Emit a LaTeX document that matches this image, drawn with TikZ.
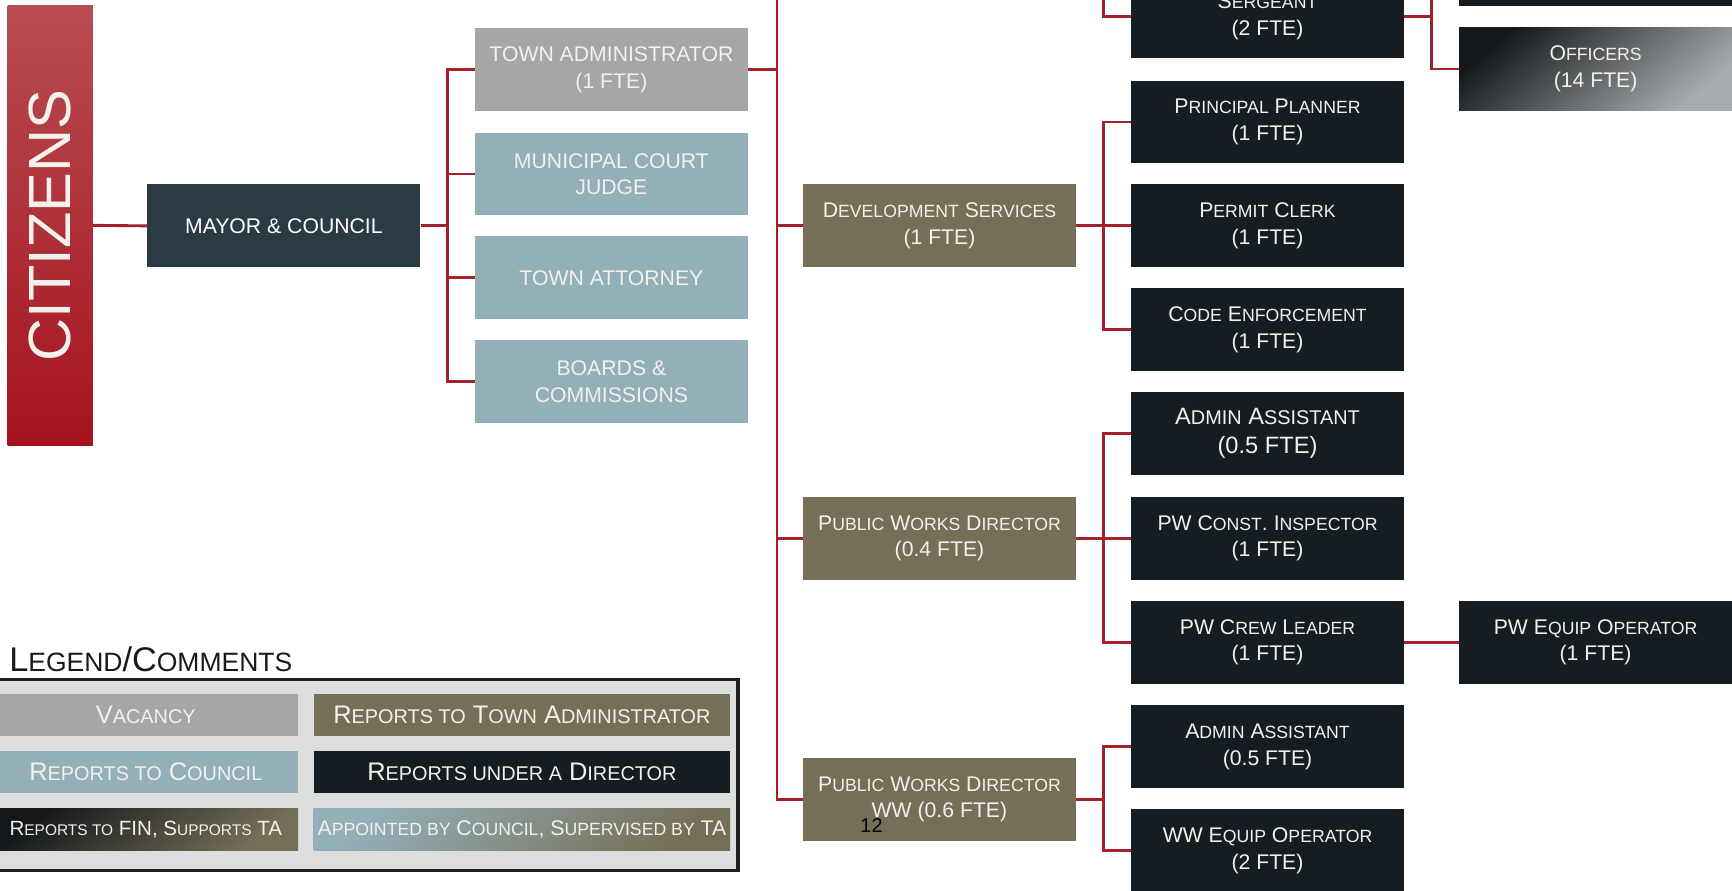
\documentclass[tikz,border=0pt]{standalone}
\usepackage{fontspec}
\setmainfont{Liberation Sans}
\usepackage{relsize}
\usetikzlibrary{positioning}

\definecolor{linkred}{HTML}{A3202D}
\definecolor{citytop}{HTML}{B84D53}
\definecolor{citybot}{HTML}{A5131E}
\definecolor{mayorfill}{HTML}{2A3B44}
\definecolor{vacfill}{HTML}{A6A6A6}
\definecolor{councilfill}{HTML}{93AFB8}
\definecolor{tafill}{HTML}{766F58}
\definecolor{dirfill}{HTML}{161D22}
\definecolor{offdark}{HTML}{14181B}
\definecolor{offlight}{HTML}{A9ACAF}
\definecolor{boxtext}{HTML}{F3F1EC}
\definecolor{legbg}{HTML}{DCDEDD}
\definecolor{legframe}{HTML}{1B2024}

\newcommand{\smc}[1]{\textscale{0.8}{#1}}

\begin{document}
\begin{tikzpicture}[x=0.5pt,y=-0.5pt,
    link/.style={draw=linkred,line width=1.3pt},
    unit/.style={minimum width=123.5pt,minimum height=37.5pt,inner sep=0pt,
      align=center,text=boxtext,font=\fontsize{9.6}{12}\selectfont},
    vacant/.style={unit,fill=vacfill},
    council/.style={unit,fill=councilfill},
    tabox/.style={unit,fill=tafill},
    dirbox/.style={unit,fill=dirfill},
    legitem/.style={minimum height=19pt,inner sep=0pt,text=boxtext,
      font=\fontsize{11.5}{13}\selectfont}]
  \useasboundingbox (0,0) rectangle (1568,806);
  \clip (0,0) rectangle (1568,806);

  % 市民与市长
  \node[minimum width=38.5pt,minimum height=199pt,top color=citytop,bottom color=citybot] (citizens) at (45.5,204) {};
  \node[rotate=90,text=boxtext,font=\fontsize{27}{30}\selectfont] (citizenstext) at (citizens.center) {CITIZENS};
  \node[unit,fill=mayorfill,text=white] (mayor) at (257,204.5) {MAYOR \& COUNCIL};

  % 向议会汇报
  \node[vacant] (ta) at (553.5,63) {TOWN ADMINISTRATOR\\(1 FTE)};
  \node[council] (judge) at (553.5,157.5) {MUNICIPAL COURT\\JUDGE};
  \node[council] (attorney) at (553.5,251.5) {TOWN ATTORNEY};
  \node[council] (boards) at (553.5,345.5) {BOARDS \&\\COMMISSIONS};

  % 部门主管
  \node[tabox] (devsvc) at (850.5,204.5) {D\smc{EVELOPMENT} S\smc{ERVICES}\\(1 FTE)};
  \node[tabox] (pwdir) at (850.5,487.5) {P\smc{UBLIC} W\smc{ORKS} D\smc{IRECTOR}\\(0.4 FTE)};
  \node[tabox] (pwww) at (850.5,723.5) {P\smc{UBLIC} W\smc{ORKS} D\smc{IRECTOR}\\WW (0.6 FTE)};
  \node[text=black,font=\fontsize{9}{10}\selectfont] (pagenum) at (789,747) {12};

  % 主管下属
  \node[dirbox] (sergeant) at (1147.5,15) {S\smc{ERGEANT}\\(2 FTE)};
  \node[dirbox] (planner) at (1147.5,110.5) {P\smc{RINCIPAL} P\smc{LANNER}\\(1 FTE)};
  \node[dirbox] (clerk) at (1147.5,204.5) {P\smc{ERMIT} C\smc{LERK}\\(1 FTE)};
  \node[dirbox] (code) at (1147.5,298.5) {C\smc{ODE} E\smc{NFORCEMENT}\\(1 FTE)};
  \node[dirbox,font=\fontsize{10.7}{13}\selectfont] (admina) at (1147.5,392.5) {A\smc{DMIN} A\smc{SSISTANT}\\(0.5 FTE)};
  \node[dirbox] (inspector) at (1147.5,487.5) {PW C\smc{ONST}. I\smc{NSPECTOR}\\(1 FTE)};
  \node[dirbox] (crew) at (1147.5,581.5) {PW C\smc{REW} L\smc{EADER}\\(1 FTE)};
  \node[dirbox] (adminb) at (1147.5,676) {A\smc{DMIN} A\smc{SSISTANT}\\(0.5 FTE)};
  \node[dirbox] (wwop) at (1147.5,770) {WW E\smc{QUIP} O\smc{PERATOR}\\(2 FTE)};

  % 最右一列
  \node[dirbox] (topright) at (1444.5,-32) {};
  \node[unit,top color=offdark,bottom color=offlight,shading angle=40] (officers) at (1444.5,62.5) {O\smc{FFICERS}\\(14 FTE)};
  \node[dirbox] (pwop) at (1444.5,581.5) {PW E\smc{QUIP} O\smc{PERATOR}\\(1 FTE)};

  % 连线
  \draw[link] (citizens.east) -- (mayor.west);
  \foreach \n in {ta,judge,attorney,boards}
    \draw[link] (mayor.east) -- ++(24.5,0) |- (\n.west);
  \draw[link] (ta.east) -- ++(26,0) -- ++(0,-100);
  \foreach \n in {devsvc,pwdir,pwww}
    \draw[link] (ta.east) -- ++(26,0) |- (\n.west);
  \draw[link] (sergeant.west) -- ++(-24.5,0) -- ++(0,-60);
  \foreach \n in {topright,officers}
    \draw[link] (sergeant.east) -- ++(24.5,0) |- (\n.west);
  \foreach \n in {planner,clerk,code}
    \draw[link] (devsvc.east) -- ++(24.5,0) |- (\n.west);
  \foreach \n in {admina,inspector,crew}
    \draw[link] (pwdir.east) -- ++(24.5,0) |- (\n.west);
  \foreach \n in {adminb,wwop}
    \draw[link] (pwww.east) -- ++(24.5,0) |- (\n.west);
  \draw[link] (crew) -- (pwop);

  % 图例
  \node[anchor=west,inner sep=0pt,text=black!90,font=\fontsize{15.5}{18}\selectfont] (legtitle) at (8,597) {L\smc{EGEND}/C\smc{OMMENTS}};
  \node[draw=legframe,line width=1.5pt,fill=legbg,minimum width=344pt,minimum height=86.5pt] (legendbox) at (324,701.5) {};
  \node[legitem,fill=vacfill,minimum width=138pt] (legvac) at (132,647) {V\smc{ACANCY}};
  \node[legitem,fill=tafill,minimum width=188.5pt] (legta) at (472.5,647) {R\smc{EPORTS TO} T\smc{OWN} A\smc{DMINISTRATOR}};
  \node[legitem,fill=councilfill,minimum width=138pt] (legcouncil) at (132,699) {R\smc{EPORTS TO} C\smc{OUNCIL}};
  \node[legitem,fill=dirfill,minimum width=188.5pt] (legdir) at (472.5,699) {R\smc{EPORTS UNDER A} D\smc{IRECTOR}};
  \node[legitem,top color=offdark,bottom color=tafill,shading angle=40,minimum width=138pt,font=\fontsize{9.3}{11}\selectfont] (legfin) at (132,751) {R\smc{EPORTS TO} FIN, S\smc{UPPORTS} TA};
  \node[legitem,top color=councilfill,bottom color=tafill,shading angle=40,minimum width=188.5pt,font=\fontsize{9.6}{11}\selectfont] (legappt) at (472.5,751) {A\smc{PPOINTED BY} C\smc{OUNCIL}, S\smc{UPERVISED BY} TA};
\end{tikzpicture}
\end{document}
